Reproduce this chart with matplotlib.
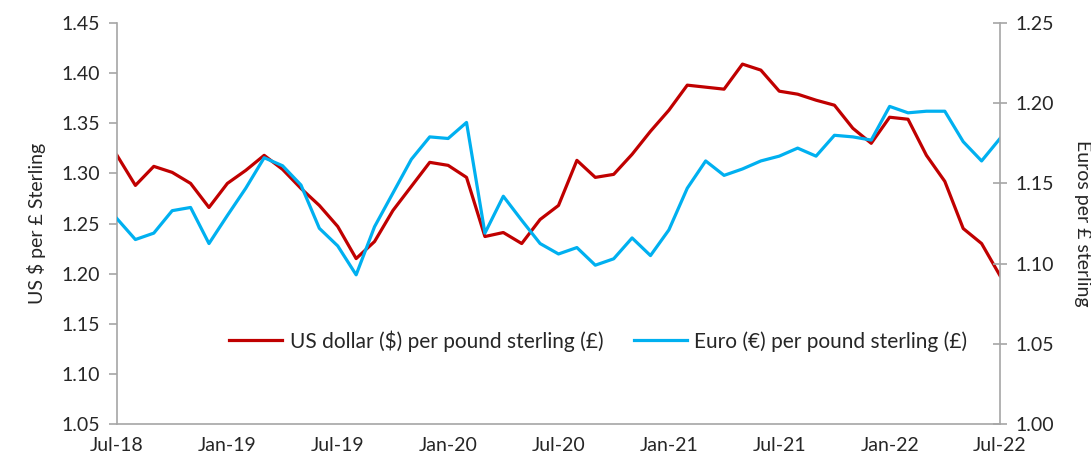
import numpy as np
import pandas as pd
import matplotlib
matplotlib.use("Agg")
import matplotlib.pyplot as plt

plt.rcParams["font.family"] = ["Lato", "DejaVu Sans"]

months = pd.date_range("2018-07-01", "2022-07-01", freq="MS")

# US dollars per pound sterling (left axis)
usd = [1.318, 1.288, 1.307, 1.301, 1.290, 1.266, 1.290, 1.303, 1.318, 1.304,
       1.285, 1.268, 1.247, 1.215, 1.232, 1.263, 1.287, 1.311, 1.308, 1.296,
       1.237, 1.241, 1.230, 1.254, 1.268, 1.313, 1.296, 1.299, 1.319, 1.342,
       1.363, 1.388, 1.386, 1.384, 1.409, 1.403, 1.382, 1.379, 1.373, 1.368,
       1.345, 1.330, 1.356, 1.354, 1.318, 1.292, 1.245, 1.230, 1.198]

# Euros per pound sterling (right axis)
eur = [1.128, 1.115, 1.119, 1.133, 1.135, 1.1125, 1.130, 1.147, 1.166, 1.161,
       1.149, 1.122, 1.111, 1.093, 1.123, 1.144, 1.165, 1.179, 1.178, 1.188,
       1.119, 1.142, 1.127, 1.1125, 1.106, 1.110, 1.099, 1.103, 1.116, 1.105,
       1.121, 1.147, 1.164, 1.155, 1.159, 1.164, 1.167, 1.172, 1.167, 1.180,
       1.179, 1.177, 1.198, 1.194, 1.195, 1.195, 1.176, 1.164, 1.178]

usd_label = "US dollar ($) per pound sterling (£)"
eur_label = "Euro (€) per pound sterling (£)"

x = np.arange(len(months))
tick_pos = x[::6]
tick_labels = [m.strftime("%b-%y") for m in months[::6]]

axis_grey = "#a6a6a6"
text_col = "#262626"
fs = 14

fig = plt.figure(figsize=(10.91, 4.69), dpi=100)
ax = fig.add_axes([117 / 1091, 1 - 424 / 469, (1000 - 117) / 1091, (424 - 23) / 469])
ax2 = ax.twinx()

l1, = ax.plot(x, usd, color="#c00000", lw=2.3, label=usd_label)
l2, = ax2.plot(x, eur, color="#00b0f0", lw=2.3, label=eur_label)

ax.set_xlim(0, 48)
ax.set_ylim(1.05, 1.45)
ax2.set_ylim(1.00, 1.25)
ax.set_yticks(np.arange(1.05, 1.451, 0.05))
ax2.set_yticks(np.arange(1.00, 1.251, 0.05))
ax.yaxis.set_major_formatter(matplotlib.ticker.FormatStrFormatter("%.2f"))
ax2.yaxis.set_major_formatter(matplotlib.ticker.FormatStrFormatter("%.2f"))
ax.set_xticks(tick_pos)
ax.set_xticklabels(tick_labels)

for a in (ax, ax2):
    a.spines["top"].set_visible(False)
    for s in a.spines.values():
        s.set_color(axis_grey)
        s.set_linewidth(1.2)
ax.spines["right"].set_visible(False)
ax2.spines["left"].set_visible(False)
ax2.spines["bottom"].set_visible(False)

ax.tick_params(axis="y", direction="out", length=6, width=1.2, color=axis_grey,
               labelsize=fs, labelcolor=text_col, pad=6)
ax.tick_params(axis="x", length=0, labelsize=fs, labelcolor=text_col, pad=9)
ax2.tick_params(axis="y", direction="inout", length=10, width=1.2, color=axis_grey,
                labelsize=fs, labelcolor=text_col, pad=6)

ax.set_ylabel("US $ per £ Sterling", fontsize=fs, color=text_col, labelpad=11)
ax2.set_ylabel("Euros per £ sterling", fontsize=fs, color=text_col,
               rotation=270, labelpad=27)

leg = ax.legend(handles=[l1, l2], loc="center", bbox_to_anchor=(0.545, 0.207),
                ncol=2, frameon=False, fontsize=15, handlelength=2.55,
                columnspacing=1.45, handletextpad=0.35)
for t in leg.get_texts():
    t.set_color(text_col)

fig.savefig("out.png", dpi=100)
